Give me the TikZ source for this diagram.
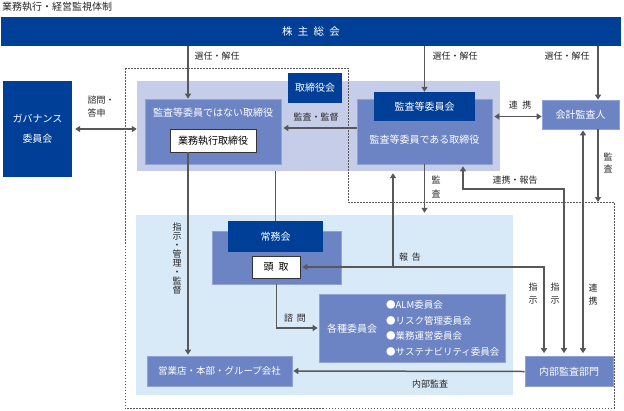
\documentclass[tikz,border=0pt]{standalone}
\usepackage{fontspec}
\setmainfont{Noto Sans CJK JP}
\usetikzlibrary{arrows.meta}
\definecolor{navy}{HTML}{003F98}
\definecolor{midblue}{HTML}{6C84C4}
\definecolor{lavender}{HTML}{C6CDE9}
\definecolor{paleblue}{HTML}{D8EAF8}
\definecolor{linegray}{HTML}{585858}

\begin{document}
\begin{tikzpicture}[x=1pt,y=-1pt,
    >={Triangle[length=5pt,width=6pt]},
    darkbox/.style ={fill=navy, text=white, inner sep=0pt, font=\fontsize{10}{12}\selectfont},
    midbox/.style ={fill=midblue, draw=midblue!75!white, line width=0.6pt, text=white, inner sep=0pt, font=\fontsize{10}{12}\selectfont},
    whitebox/.style ={fill=white, draw=black!80, line width=0.8pt, inner sep=0pt, font=\fontsize{10}{12}\selectfont},
    boxtext/.style ={text=white, inner sep=0pt, font=\fontsize{10}{12}\selectfont},
    lbl/.style ={text=black!85, inner sep=0pt, align=center, font=\fontsize{9}{13}\selectfont},
    arr/.style ={draw=linegray, line width=1.5pt, ->}]
   \useasboundingbox (0,0) rectangle (624,410);

   \node[text=black!85, anchor=west, inner sep=0pt, font=\fontsize{10}{12}\selectfont] (title) at (2,7) {業務執行・経営監視体制};
   \node[darkbox, minimum width=620, minimum height=29, font=\fontsize{10.5}{12}\selectfont] (soukai) at (311,31.5) {株\hspace{0.5em}主\hspace{0.5em}総\hspace{0.5em}会};
   \node[darkbox, minimum width=69, minimum height=96, align=center, font=\fontsize{10}{20}\selectfont] (gov) at (37.5,129) {ガバナンス\\委員会};

   % backgrounds
   \node[fill=lavender, inner sep=0pt, minimum width=363, minimum height=90] (board) at (318.5,126) {};
   \node[fill=paleblue, inner sep=0pt, minimum width=377, minimum height=180] (joumuarea) at (324.5,305) {};

   \coordinate (fence) at (614,202);
   \draw[linegray, line width=0.9pt, dash pattern=on 1.5pt off 1.5pt] (125,68) -- (348,68) -- (348,202) -- (fence) -- (614,408) -- (125,408) -- cycle;

   \node[darkbox, minimum width=54, minimum height=30] (boardlbl) at (315,88) {取締役会};
   \node[midbox, minimum width=136, minimum height=65] (exec) at (213,131.5) {};
   \node[boxtext] (exectxt) at (213,113) {監査等委員ではない取締役};
   \node[whitebox, minimum width=86, minimum height=23] (gyomu) at (213,140.5) {業務執行取締役};

   \node[midbox, minimum width=135, minimum height=65] (audit) at (424.5,131.5) {};
   \node[boxtext] (audittxt) at (424.5,140) {監査等委員である取締役};
   \node[darkbox, minimum width=101, minimum height=29] (auditcom) at (424.5,106.5) {監査等委員会};
   \node[midbox, minimum width=77, minimum height=29] (kaikei) at (580.5,114.5) {会計監査人};

   \node[midbox, minimum width=129, minimum height=53] (joumuback) at (276.5,257.5) {};
   \node[darkbox, minimum width=95, minimum height=31] (joumu) at (275.5,236.5) {常務会};
   \node[whitebox, minimum width=48, minimum height=22] (toudori) at (276,267) {頭\hspace{0.5em}取};

   \node[midbox, minimum width=186, minimum height=68] (kakushu) at (412,328) {};
   \node[boxtext] (kakushutxt) at (352,329) {各種委員会};
   \node[boxtext, anchor=west, align=left, font=\fontsize{9.5}{15.5}\selectfont] (kakushulist) at (386,328.5) {●ALM委員会\\●リスク管理委員会\\●業務運営委員会\\●サステナビリティ委員会};

   \node[midbox, minimum width=145, minimum height=30, font=\fontsize{9.5}{12}\selectfont] (branch) at (219.5,371) {営業店・本部・グループ会社};
   \node[midbox, minimum width=88, minimum height=30] (internal) at (569,371.5) {内部監査部門};

   % connectors
   \coordinate (xA) at (188,0);
   \coordinate (xC) at (393,0);
   \coordinate (xE) at (463,0);
   \coordinate (xF) at (544,0);
   \coordinate (xG) at (564,0);
   \coordinate (xH) at (583,0);
   \coordinate (xI) at (598,0);
   \coordinate (yR) at (0,189);

   \draw[arr] (soukai.south -| xA) -- (exec.north -| xA);
   \draw[arr] (soukai.south -| auditcom) -- (auditcom.north);
   \draw[arr] (soukai.south -| xI) -- (kaikei.north -| xI);
   \draw[arr, <->, shorten <=3pt] (gov.east) -- (gov.east -| board.west);
   \draw[arr, shorten >=2pt] ([yshift=3.5pt]audit.west) -- ([yshift=3.5pt]exec.east);
   \draw[arr, <->, shorten <=2pt] ([yshift=-2pt]kaikei.west -| audit.east) -- ([yshift=-2pt]kaikei.west);
   \draw[arr] (kaikei.south -| xI) -- (xI |- fence);
   \draw[arr, <->, shorten <=1pt, shorten >=3pt] (kaikei.south -| xH) -- (internal.north -| xH);
   \draw[arr, shorten >=2pt] (audit.south) -- (audit.south |- joumuarea.north);
   \draw[arr, <->, shorten <=2pt, shorten >=3pt] (audit.south -| xE) -- (xE |- yR) -- (xG |- yR) -- (internal.north -| xG);
   \draw[arr, <->, shorten <=2pt, shorten >=3pt] (toudori.east) -- (toudori.east -| xF) -- (internal.north -| xF);
   \draw[arr, shorten >=2pt] (toudori.east -| xC) -- (xC |- board.south);
   \draw[arr, shorten >=1pt] (gyomu.south -| xA) -- (branch.north -| xA);
   \draw[draw=linegray, line width=1.5pt] (joumu.north |- board.south) -- (joumu.north);
   \draw[arr, shorten >=1pt] (joumuback.south) |- (kakushu.west);
   \draw[arr, shorten >=1pt] (internal.west) -- (branch.east);

   % labels
   \node[lbl] (elect1) at (217,56) {選任・解任};
   \node[lbl] (elect2) at (455,56) {選任・解任};
   \node[lbl] (elect3) at (567,56) {選任・解任};
   \node[lbl, align=left] (consult) at (101,107) {諮問・\\答申};
   \node[lbl] (supervise) at (316,117) {監査・監督};
   \node[lbl] (coop) at (520,105) {連\hspace{0.5em}携};
   \node[lbl] (audit1) at (608,163) {監\\査};
   \node[lbl, font=\fontsize{9}{14}\selectfont] (audit2) at (436,187) {監\\査};
   \node[lbl] (coopreport) at (515,180) {連携・報告};
   \node[lbl] (report) at (410,257) {報\hspace{0.4em}告};
   \node[lbl] (instr1) at (533,294) {指\\示};
   \node[lbl] (instr2) at (555,294) {指\\示};
   \node[lbl] (coop2) at (593,295) {連\\携};
   \node[lbl, font=\fontsize{9}{9}\selectfont] (command) at (177,259) {指\\示\\・\\管\\理\\・\\監\\督};
   \node[lbl] (consult2) at (295,318) {諮\hspace{0.4em}問};
   \node[lbl] (inaudit) at (430,384) {内部監査};
 \end{tikzpicture}
\end{document}
